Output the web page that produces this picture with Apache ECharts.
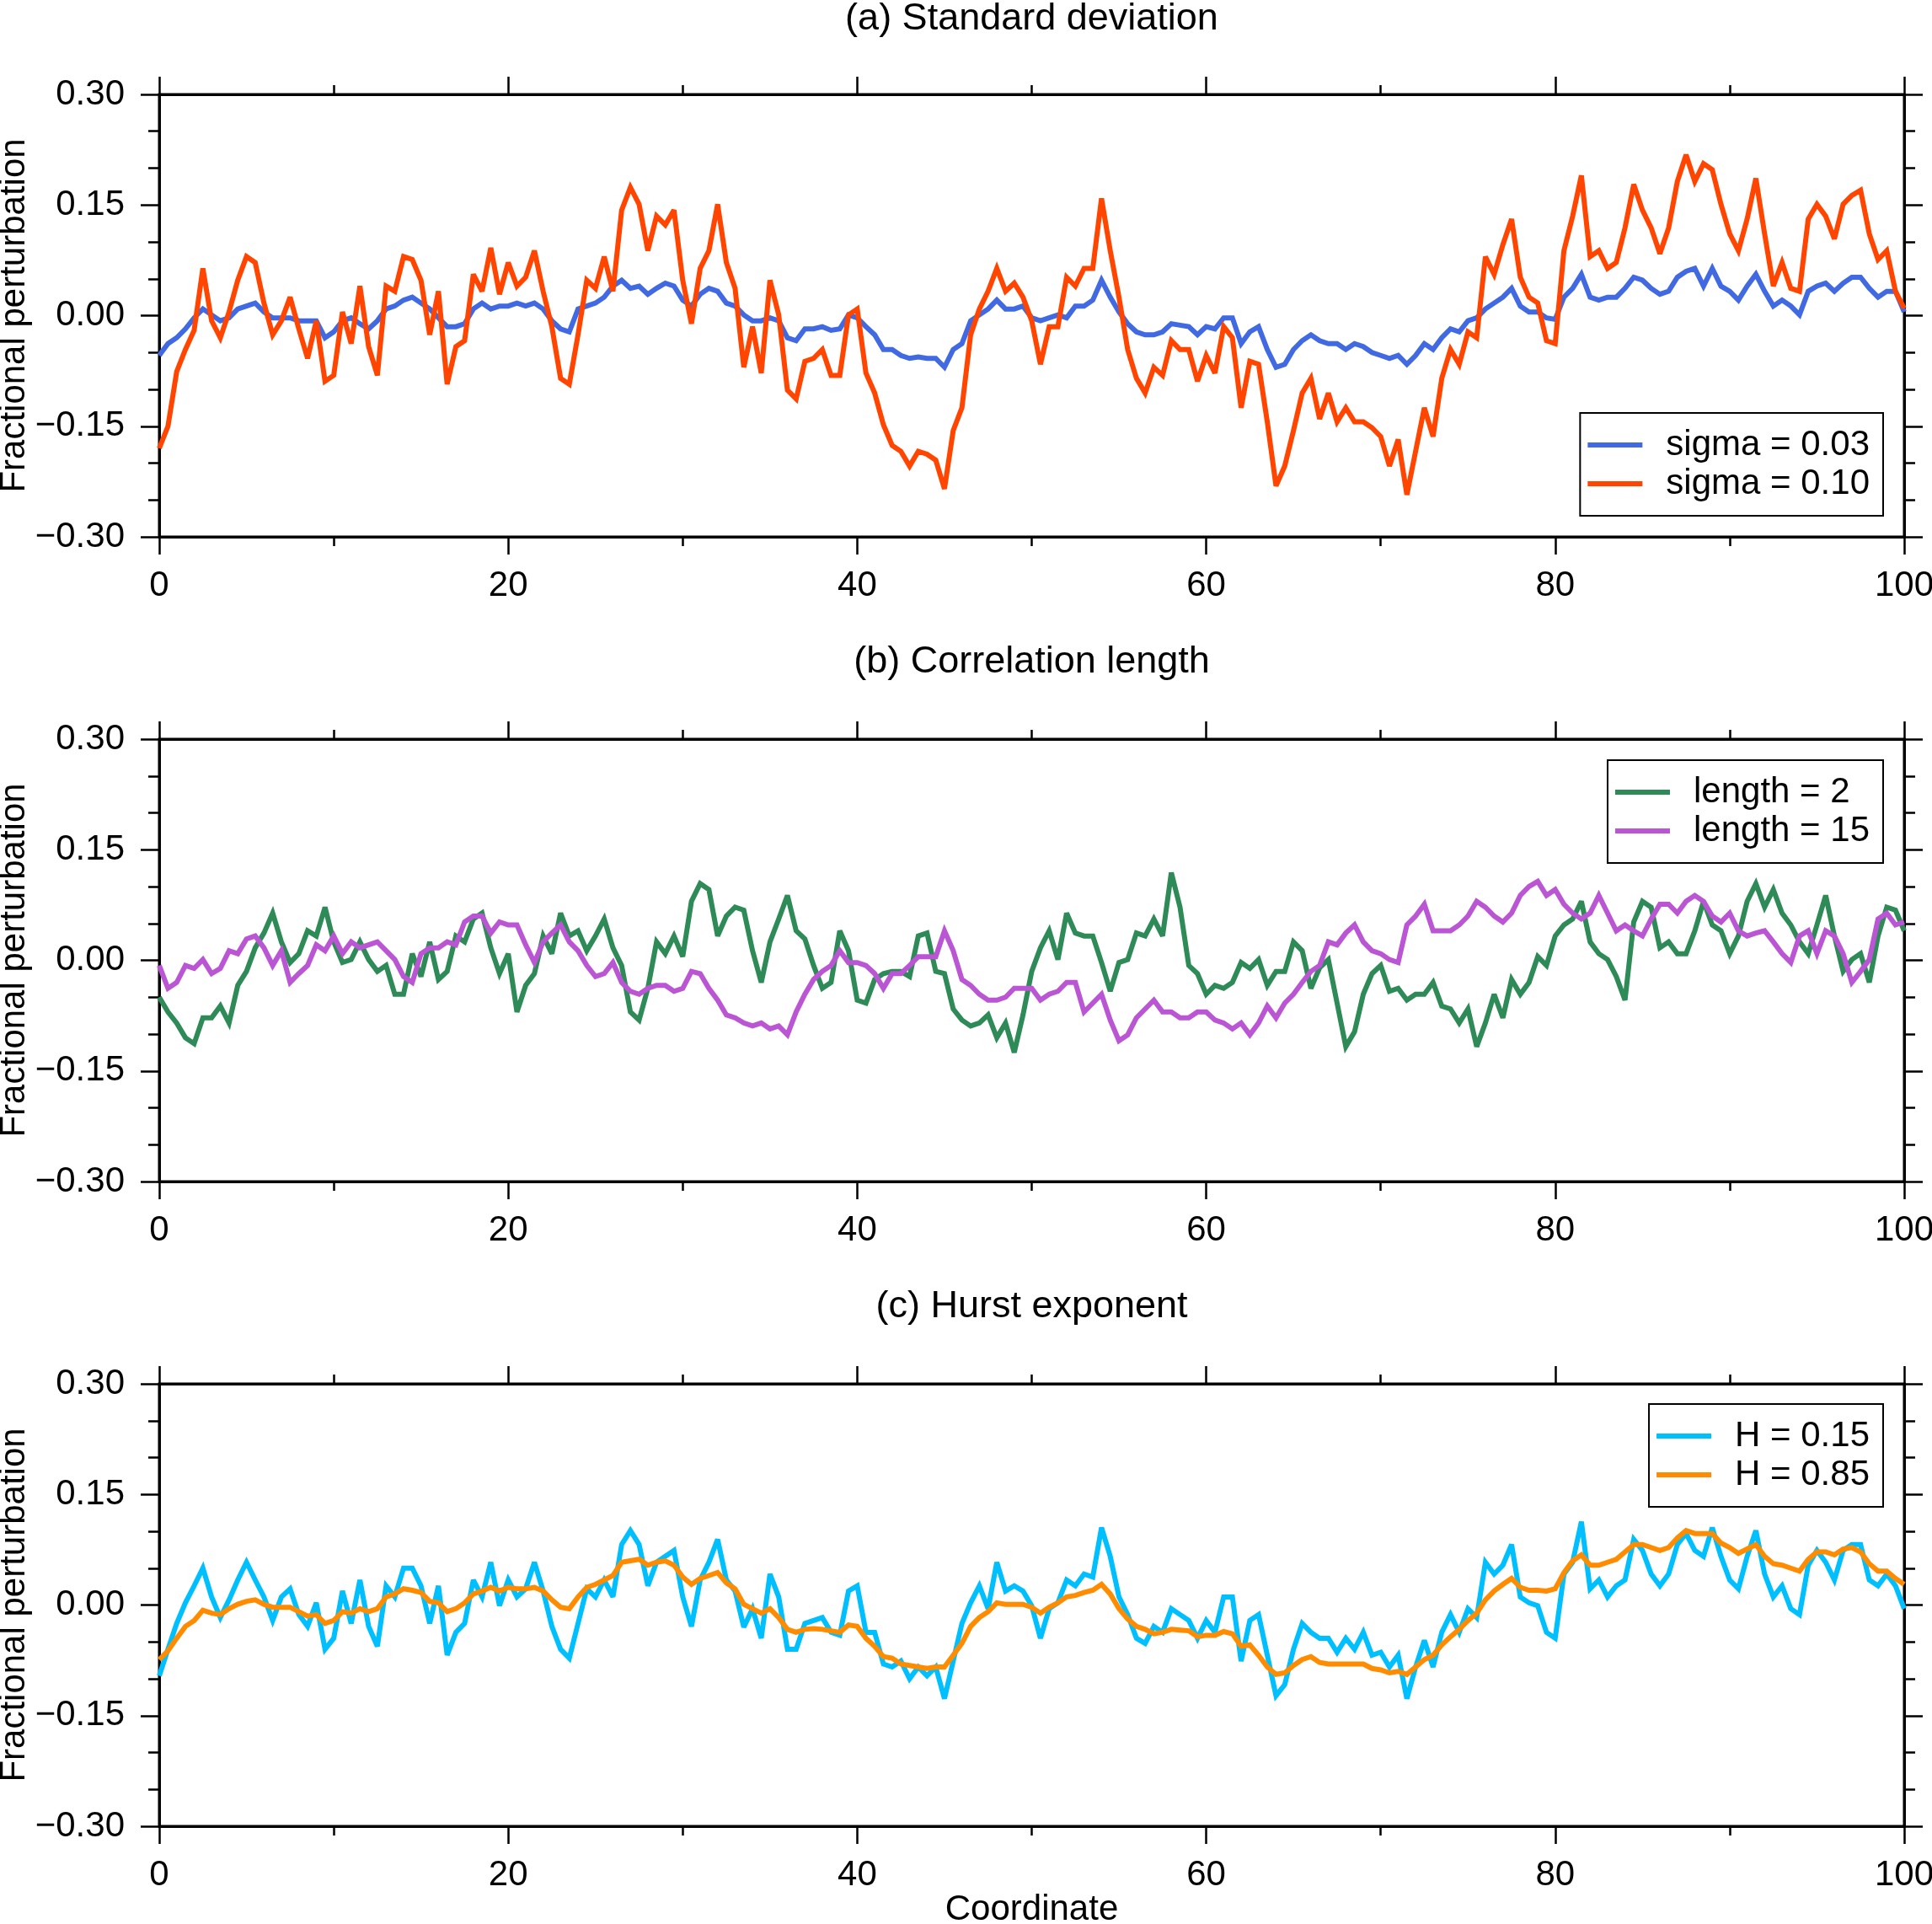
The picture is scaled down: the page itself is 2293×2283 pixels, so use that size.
<!DOCTYPE html>
<html>
<head>
<meta charset="utf-8">
<title>Fractional perturbation</title>
<script src="https://cdn.jsdelivr.net/npm/echarts@6.0.0/dist/echarts.min.js"></script>
<style>
html, body { margin: 0; padding: 0; background: #fff; }
#chart { width: 2293px; height: 2283px; }
</style>
</head>
<body>
<div id="chart"></div>
<script>
// sample positions along the coordinate axis (every 0.5)
var coord = [];
for (var i = 0; i <= 200; i++) coord.push(i / 2);

// (a) standard deviation
var sigma003 = [
  -0.054,-0.038,-0.03,-0.018,-0.003,0.009,0.001,-0.007,-0.003,0.009, 0.013,0.017,0.005,-0.003,-0.003,-0.003,-0.007,-0.007,-0.007,-0.03,
  -0.022,-0.007,-0.003,-0.011,-0.018,-0.007,0.009,0.013,0.021,0.025, 0.017,0.009,-0.003,-0.015,-0.015,-0.011,0.009,0.017,0.009,0.013,
  0.013,0.017,0.013,0.017,0.009,-0.007,-0.018,-0.022,0.009,0.013, 0.017,0.025,0.04,0.048,0.037,0.04,0.029,0.037,0.044,0.04,
  0.021,0.013,0.029,0.037,0.033,0.017,0.013,0.001,-0.007,-0.007, -0.003,-0.007,-0.03,-0.034,-0.018,-0.018,-0.015,-0.02,-0.018,0.001,
  -0.003,-0.015,-0.026,-0.046,-0.046,-0.054,-0.058,-0.056,-0.058,-0.058, -0.07,-0.046,-0.038,-0.007,0.001,0.009,0.021,0.009,0.009,0.013,
  -0.003,-0.007,-0.003,0.001,-0.003,0.013,0.013,0.021,0.048,0.025, 0.005,-0.011,-0.022,-0.026,-0.026,-0.022,-0.011,-0.013,-0.015,-0.026,
  -0.015,-0.018,-0.003,-0.003,-0.038,-0.022,-0.015,-0.046,-0.07,-0.066, -0.046,-0.034,-0.026,-0.034,-0.038,-0.038,-0.046,-0.038,-0.042,-0.05,
  -0.054,-0.058,-0.054,-0.066,-0.054,-0.038,-0.046,-0.03,-0.018,-0.022, -0.007,-0.003,0.009,0.017,0.025,0.037,0.013,0.005,0.005,-0.003,
  -0.005,0.025,0.037,0.056,0.025,0.021,0.025,0.025,0.037,0.052, 0.048,0.037,0.029,0.033,0.052,0.06,0.064,0.04,0.064,0.04,
  0.033,0.021,0.04,0.056,0.033,0.013,0.021,0.013,0.001,0.033, 0.04,0.044,0.033,0.044,0.052,0.052,0.037,0.025,0.033,0.033,
  0.005
];
var sigma010 = [
  -0.18,-0.15,-0.076,-0.046,-0.02,0.064,-0.007,-0.03,0.005,0.048, 0.08,0.072,0.017,-0.026,-0.007,0.025,-0.018,-0.058,-0.007,-0.089,
  -0.081,0.005,-0.038,0.04,-0.042,-0.081,0.04,0.033,0.08,0.076, 0.048,-0.026,0.033,-0.093,-0.042,-0.034,0.056,0.033,0.092,0.029,
  0.072,0.04,0.052,0.088,0.033,-0.015,-0.085,-0.093,-0.026,0.048, 0.037,0.08,0.033,0.143,0.174,0.151,0.088,0.135,0.123,0.143,
  0.048,-0.011,0.064,0.088,0.151,0.072,0.037,-0.07,-0.015,-0.078, 0.048,0.001,-0.101,-0.113,-0.062,-0.058,-0.046,-0.081,-0.081,0.001,
  0.009,-0.078,-0.105,-0.148,-0.176,-0.184,-0.204,-0.184,-0.188,-0.196, -0.235,-0.156,-0.125,-0.026,0.009,0.033,0.064,0.033,0.044,0.025,
  -0.007,-0.066,-0.015,-0.015,0.052,0.04,0.064,0.064,0.159,0.088, 0.025,-0.046,-0.085,-0.105,-0.07,-0.081,-0.034,-0.046,-0.046,-0.089,
  -0.054,-0.078,-0.015,-0.03,-0.125,-0.062,-0.066,-0.144,-0.231,-0.204, -0.156,-0.105,-0.085,-0.14,-0.105,-0.144,-0.125,-0.144,-0.144,-0.152,
  -0.164,-0.204,-0.168,-0.243,-0.184,-0.125,-0.164,-0.085,-0.046,-0.066, -0.022,-0.03,0.08,0.056,0.096,0.131,0.052,0.025,0.017,-0.034,
  -0.038,0.088,0.135,0.19,0.08,0.088,0.064,0.072,0.119,0.178, 0.143,0.119,0.084,0.119,0.182,0.218,0.182,0.206,0.198,0.151,
  0.111,0.088,0.131,0.186,0.111,0.04,0.072,0.037,0.033,0.131, 0.151,0.135,0.104,0.151,0.163,0.17,0.111,0.076,0.088,0.033,
  0.01
];

// (b) correlation length
var length2 = [
  -0.05,-0.07,-0.085,-0.105,-0.113,-0.078,-0.078,-0.062,-0.085,-0.034, -0.015,0.017,0.037,0.064,0.025,-0.003,0.009,0.04,0.033,0.072,
  0.025,-0.003,0.001,0.025,0.001,-0.015,-0.007,-0.046,-0.046,0.009, -0.022,0.025,-0.026,-0.015,0.033,0.025,0.056,0.064,0.017,-0.018,
  0.009,-0.07,-0.034,-0.018,0.033,0.009,0.064,0.033,0.04,0.013, 0.033,0.056,0.017,-0.007,-0.07,-0.081,-0.038,0.025,0.009,0.033,
  0.005,0.08,0.104,0.096,0.033,0.06,0.072,0.068,0.013,-0.03, 0.025,0.056,0.088,0.04,0.029,-0.007,-0.038,-0.03,0.04,0.013,
  -0.054,-0.058,-0.026,-0.018,-0.015,-0.015,-0.022,0.033,0.037,-0.015, -0.018,-0.066,-0.081,-0.089,-0.085,-0.074,-0.105,-0.085,-0.125,-0.074,
  -0.015,0.017,0.04,0.001,0.064,0.037,0.033,0.033,-0.003,-0.042, -0.003,0.001,0.037,0.033,0.056,0.033,0.119,0.072,-0.007,-0.018,
  -0.046,-0.034,-0.038,-0.03,-0.003,-0.011,0.001,-0.034,-0.015,-0.015, 0.025,0.013,-0.038,-0.01,0.001,-0.058,-0.117,-0.097,-0.046,-0.018,
  -0.007,-0.042,-0.038,-0.054,-0.046,-0.046,-0.03,-0.062,-0.066,-0.085, -0.066,-0.117,-0.085,-0.046,-0.078,-0.026,-0.046,-0.03,0.005,-0.007,
  0.033,0.048,0.056,0.08,0.025,0.009,0.001,-0.022,-0.054,0.052, 0.08,0.072,0.017,0.025,0.009,0.009,0.04,0.08,0.048,0.04,
  0.009,0.033,0.08,0.104,0.072,0.096,0.064,0.048,0.025,0.009, 0.048,0.088,0.033,-0.015,0.001,0.009,-0.03,0.033,0.072,0.068,
  0.04
];
var length15 = [
  -0.007,-0.038,-0.03,-0.007,-0.011,0.001,-0.018,-0.011,0.013,0.009, 0.029,0.033,0.017,-0.007,0.013,-0.03,-0.018,-0.007,0.021,0.013,
  0.033,0.009,0.025,0.017,0.021,0.025,0.013,0.001,-0.022,-0.03, 0.009,0.017,0.017,0.025,0.021,0.052,0.06,0.06,0.037,0.052,
  0.048,0.048,0.021,-0.003,0.025,0.037,0.048,0.025,0.013,-0.007, -0.022,-0.018,-0.003,-0.03,-0.042,-0.046,-0.038,-0.034,-0.034,-0.042,
  -0.038,-0.015,-0.018,-0.038,-0.054,-0.074,-0.078,-0.085,-0.089,-0.085, -0.093,-0.089,-0.101,-0.07,-0.046,-0.026,-0.015,-0.007,0.013,-0.003,
  -0.003,-0.007,-0.018,-0.038,-0.018,-0.018,-0.007,0.005,0.005,0.005, 0.04,0.013,-0.026,-0.034,-0.046,-0.054,-0.054,-0.05,-0.038,-0.038,
  -0.038,-0.054,-0.046,-0.042,-0.03,-0.03,-0.07,-0.058,-0.046,-0.081, -0.109,-0.101,-0.078,-0.066,-0.054,-0.07,-0.07,-0.078,-0.078,-0.07,
  -0.07,-0.081,-0.085,-0.093,-0.085,-0.101,-0.085,-0.062,-0.078,-0.058, -0.046,-0.03,-0.015,-0.007,0.025,0.021,0.037,0.048,0.025,0.013,
  0.009,0.001,-0.003,0.048,0.06,0.076,0.04,0.04,0.04,0.048, 0.06,0.08,0.072,0.06,0.052,0.064,0.088,0.1,0.107,0.088,
  0.096,0.076,0.064,0.056,0.064,0.088,0.064,0.04,0.048,0.04, 0.033,0.056,0.076,0.076,0.064,0.08,0.088,0.08,0.06,0.052,
  0.064,0.04,0.033,0.037,0.04,0.025,0.009,-0.003,0.033,0.04, 0.009,0.04,0.033,0.009,-0.03,-0.015,0.001,0.056,0.064,0.048,
  0.052
];

// (c) Hurst exponent
var hurst015 = [
  -0.096,-0.06,-0.025,0.003,0.026,0.05,0.011,-0.017,0.007,0.034, 0.058,0.034,0.011,-0.021,0.011,0.022,-0.013,-0.029,0.003,-0.06,
  -0.045,0.019,-0.025,0.034,-0.029,-0.056,0.026,0.011,0.05,0.05, 0.026,-0.025,0.026,-0.068,-0.037,-0.025,0.034,0.011,0.058,-0.001,
  0.034,0.011,0.022,0.058,0.019,-0.029,-0.06,-0.072,-0.025,0.022, 0.011,0.034,0.011,0.082,0.101,0.082,0.026,0.058,0.066,0.074,
  0.011,-0.029,0.034,0.058,0.089,0.034,0.019,-0.03,-0.005,-0.045, 0.042,0.011,-0.06,-0.06,-0.025,-0.021,-0.017,-0.037,-0.041,0.019,
  0.026,-0.037,-0.037,-0.08,-0.084,-0.076,-0.1,-0.084,-0.096,-0.084, -0.127,-0.076,-0.025,0.003,0.026,-0.005,0.058,0.019,0.026,0.019,
  -0.001,-0.045,-0.005,0.003,0.034,0.026,0.042,0.038,0.105,0.066, 0.011,-0.013,-0.045,-0.052,-0.029,-0.037,-0.005,-0.013,-0.021,-0.045,
  -0.021,-0.037,0.011,0.011,-0.076,-0.021,-0.013,-0.068,-0.123,-0.108, -0.06,-0.025,-0.037,-0.045,-0.045,-0.064,-0.045,-0.06,-0.037,-0.068,
  -0.064,-0.084,-0.068,-0.127,-0.084,-0.048,-0.084,-0.037,-0.013,-0.037, -0.005,-0.017,0.058,0.042,0.054,0.082,0.011,0.003,-0.001,-0.037,
  -0.045,0.042,0.058,0.113,0.022,0.034,0.011,0.026,0.034,0.089, 0.074,0.042,0.026,0.042,0.082,0.097,0.074,0.066,0.105,0.066,
  0.034,0.022,0.066,0.101,0.042,0.011,0.026,-0.005,-0.013,0.054, 0.074,0.058,0.034,0.074,0.082,0.082,0.034,0.026,0.042,0.026,
  -0.005
];
var hurst085 = [
  -0.074,-0.062,-0.045,-0.029,-0.021,-0.007,-0.011,-0.013,-0.005,0.001, 0.005,0.007,0.001,-0.003,-0.003,-0.003,-0.009,-0.015,-0.013,-0.025,
  -0.021,-0.009,-0.011,-0.005,-0.009,-0.005,0.011,0.015,0.022,0.02, 0.017,0.005,0.003,-0.009,-0.005,0.003,0.015,0.019,0.024,0.019,
  0.024,0.022,0.022,0.024,0.019,0.007,-0.003,-0.005,0.011,0.024, 0.028,0.034,0.04,0.058,0.06,0.062,0.054,0.058,0.06,0.054,
  0.038,0.028,0.036,0.04,0.044,0.03,0.022,0.001,-0.005,-0.011, -0.005,-0.017,-0.033,-0.037,-0.033,-0.032,-0.033,-0.035,-0.037,-0.027,
  -0.029,-0.045,-0.056,-0.07,-0.072,-0.08,-0.082,-0.084,-0.086,-0.084, -0.084,-0.068,-0.052,-0.029,-0.017,-0.009,0.003,0.001,0.001,0.001,
  -0.003,-0.011,-0.003,0.003,0.011,0.013,0.017,0.02,0.028,0.015, -0.005,-0.019,-0.029,-0.033,-0.039,-0.037,-0.033,-0.034,-0.035,-0.043,
  -0.041,-0.041,-0.036,-0.039,-0.056,-0.054,-0.068,-0.084,-0.094,-0.092, -0.082,-0.074,-0.07,-0.078,-0.08,-0.08,-0.08,-0.08,-0.08,-0.086,
  -0.088,-0.092,-0.09,-0.094,-0.084,-0.074,-0.068,-0.054,-0.043,-0.033, -0.021,-0.011,0.007,0.019,0.028,0.036,0.024,0.02,0.02,0.019,
  0.022,0.044,0.06,0.068,0.054,0.054,0.058,0.062,0.072,0.082, 0.082,0.078,0.074,0.078,0.091,0.101,0.097,0.097,0.097,0.084,
  0.078,0.07,0.076,0.082,0.066,0.056,0.054,0.05,0.046,0.062, 0.072,0.072,0.068,0.076,0.078,0.072,0.056,0.046,0.046,0.036,
  0.028
];

var panelTitles = ['(a) Standard deviation', '(b) Correlation length', '(c) Hurst exponent'];
var seriesNames = [['sigma = 0.03', 'sigma = 0.10'], ['length = 2', 'length = 15'], ['H = 0.15', 'H = 0.85']];
var seriesValues = [[sigma003, sigma010], [length2, length15], [hurst015, hurst085]];
var seriesColors = [['#4169E1', '#FF4500'], ['#2E8B57', '#BA55D3'], ['#00BFFF', '#FF8C00']];

var FONT = '"Liberation Sans", Arial, Helvetica, sans-serif';
var gridTops = [112, 877, 1642];
var titleTops = [0, 763, 1528];
var legendTops = [490, 902, 1666];

function pairs(vals) {
  return vals.map(function (v, i) { return [coord[i], v]; });
}

function yLabel(v) {
  var s = Math.abs(v).toFixed(2);
  return v < -1e-9 ? '\u2212' + s : s;
}

var tickLine = { color: '#000', width: 2.5 };
var frameLine = { color: '#000', width: 3 };

var option = {
  animation: false,
  backgroundColor: '#fff',
  title: [], grid: [], xAxis: [], yAxis: [], legend: [], series: []
};

for (var p = 0; p < 3; p++) {
  option.title.push({
    text: panelTitles[p],
    left: 1224.5, top: titleTops[p], textAlign: 'center', padding: 0,
    textStyle: { fontFamily: FONT, fontSize: 45, fontWeight: 'normal', color: '#000' }
  });
  option.grid.push({
    left: 189, right: 33, top: gridTops[p], height: 525,
    outerBoundsMode: 'none', containLabel: false,
    show: true, borderColor: '#000', borderWidth: 3, backgroundColor: 'transparent'
  });
  [false, true].forEach(function (isTop) {
    option.xAxis.push({
      gridIndex: p, type: 'value', min: 0, max: 100, interval: 20,
      position: isTop ? 'top' : 'bottom',
      axisLine: { show: true, onZero: false, lineStyle: frameLine },
      axisTick: { show: true, length: 21, lineStyle: tickLine },
      minorTick: { show: true, splitNumber: 2, length: 11, lineStyle: tickLine },
      splitLine: { show: false },
      axisLabel: { show: !isTop, margin: 37, fontFamily: FONT, fontSize: 42, color: '#000' },
      name: (!isTop && p === 2) ? 'Coordinate' : '',
      nameLocation: 'middle', nameGap: 78, nameMoveOverlap: false,
      nameTextStyle: { fontFamily: FONT, fontSize: 42, color: '#000' }
    });
  });
  [false, true].forEach(function (isRight) {
    option.yAxis.push({
      gridIndex: p, type: 'value', min: -0.3, max: 0.3, interval: 0.15,
      position: isRight ? 'right' : 'left',
      axisLine: { show: true, onZero: false, lineStyle: frameLine },
      axisTick: { show: true, length: 22, lineStyle: tickLine },
      minorTick: { show: true, splitNumber: 3, length: 13, lineStyle: tickLine },
      splitLine: { show: false },
      axisLabel: { show: !isRight, margin: 41, fontFamily: FONT, fontSize: 42, color: '#000', formatter: yLabel },
      name: isRight ? '' : 'Fractional perturbation',
      nameLocation: 'middle', nameGap: 151, nameMoveOverlap: false,
      nameTextStyle: { fontFamily: FONT, fontSize: 42, color: '#000' }
    });
  });
  option.legend.push({
    data: seriesNames[p], orient: 'vertical',
    right: 58, top: legendTops[p],
    padding: [17, 16, 17, 9], itemGap: 4,
    itemWidth: 65, itemHeight: 6, icon: 'rect',
    borderColor: '#000', borderWidth: 2, backgroundColor: '#fff',
    selectedMode: false,
    textStyle: { fontFamily: FONT, fontSize: 42, color: '#000', padding: [0, 0, 0, 23] }
  });
  for (var s = 0; s < 2; s++) {
    option.series.push({
      name: seriesNames[p][s], type: 'line',
      xAxisIndex: 2 * p, yAxisIndex: 2 * p,
      data: pairs(seriesValues[p][s]),
      showSymbol: false, symbol: 'none',
      lineStyle: { width: 6, color: seriesColors[p][s], join: 'miter', miterLimit: 3 },
      itemStyle: { color: seriesColors[p][s] },
      z: 2 + s
    });
  }
}

var chart = echarts.init(document.getElementById('chart'));
chart.setOption(option);
</script>
</body>
</html>
